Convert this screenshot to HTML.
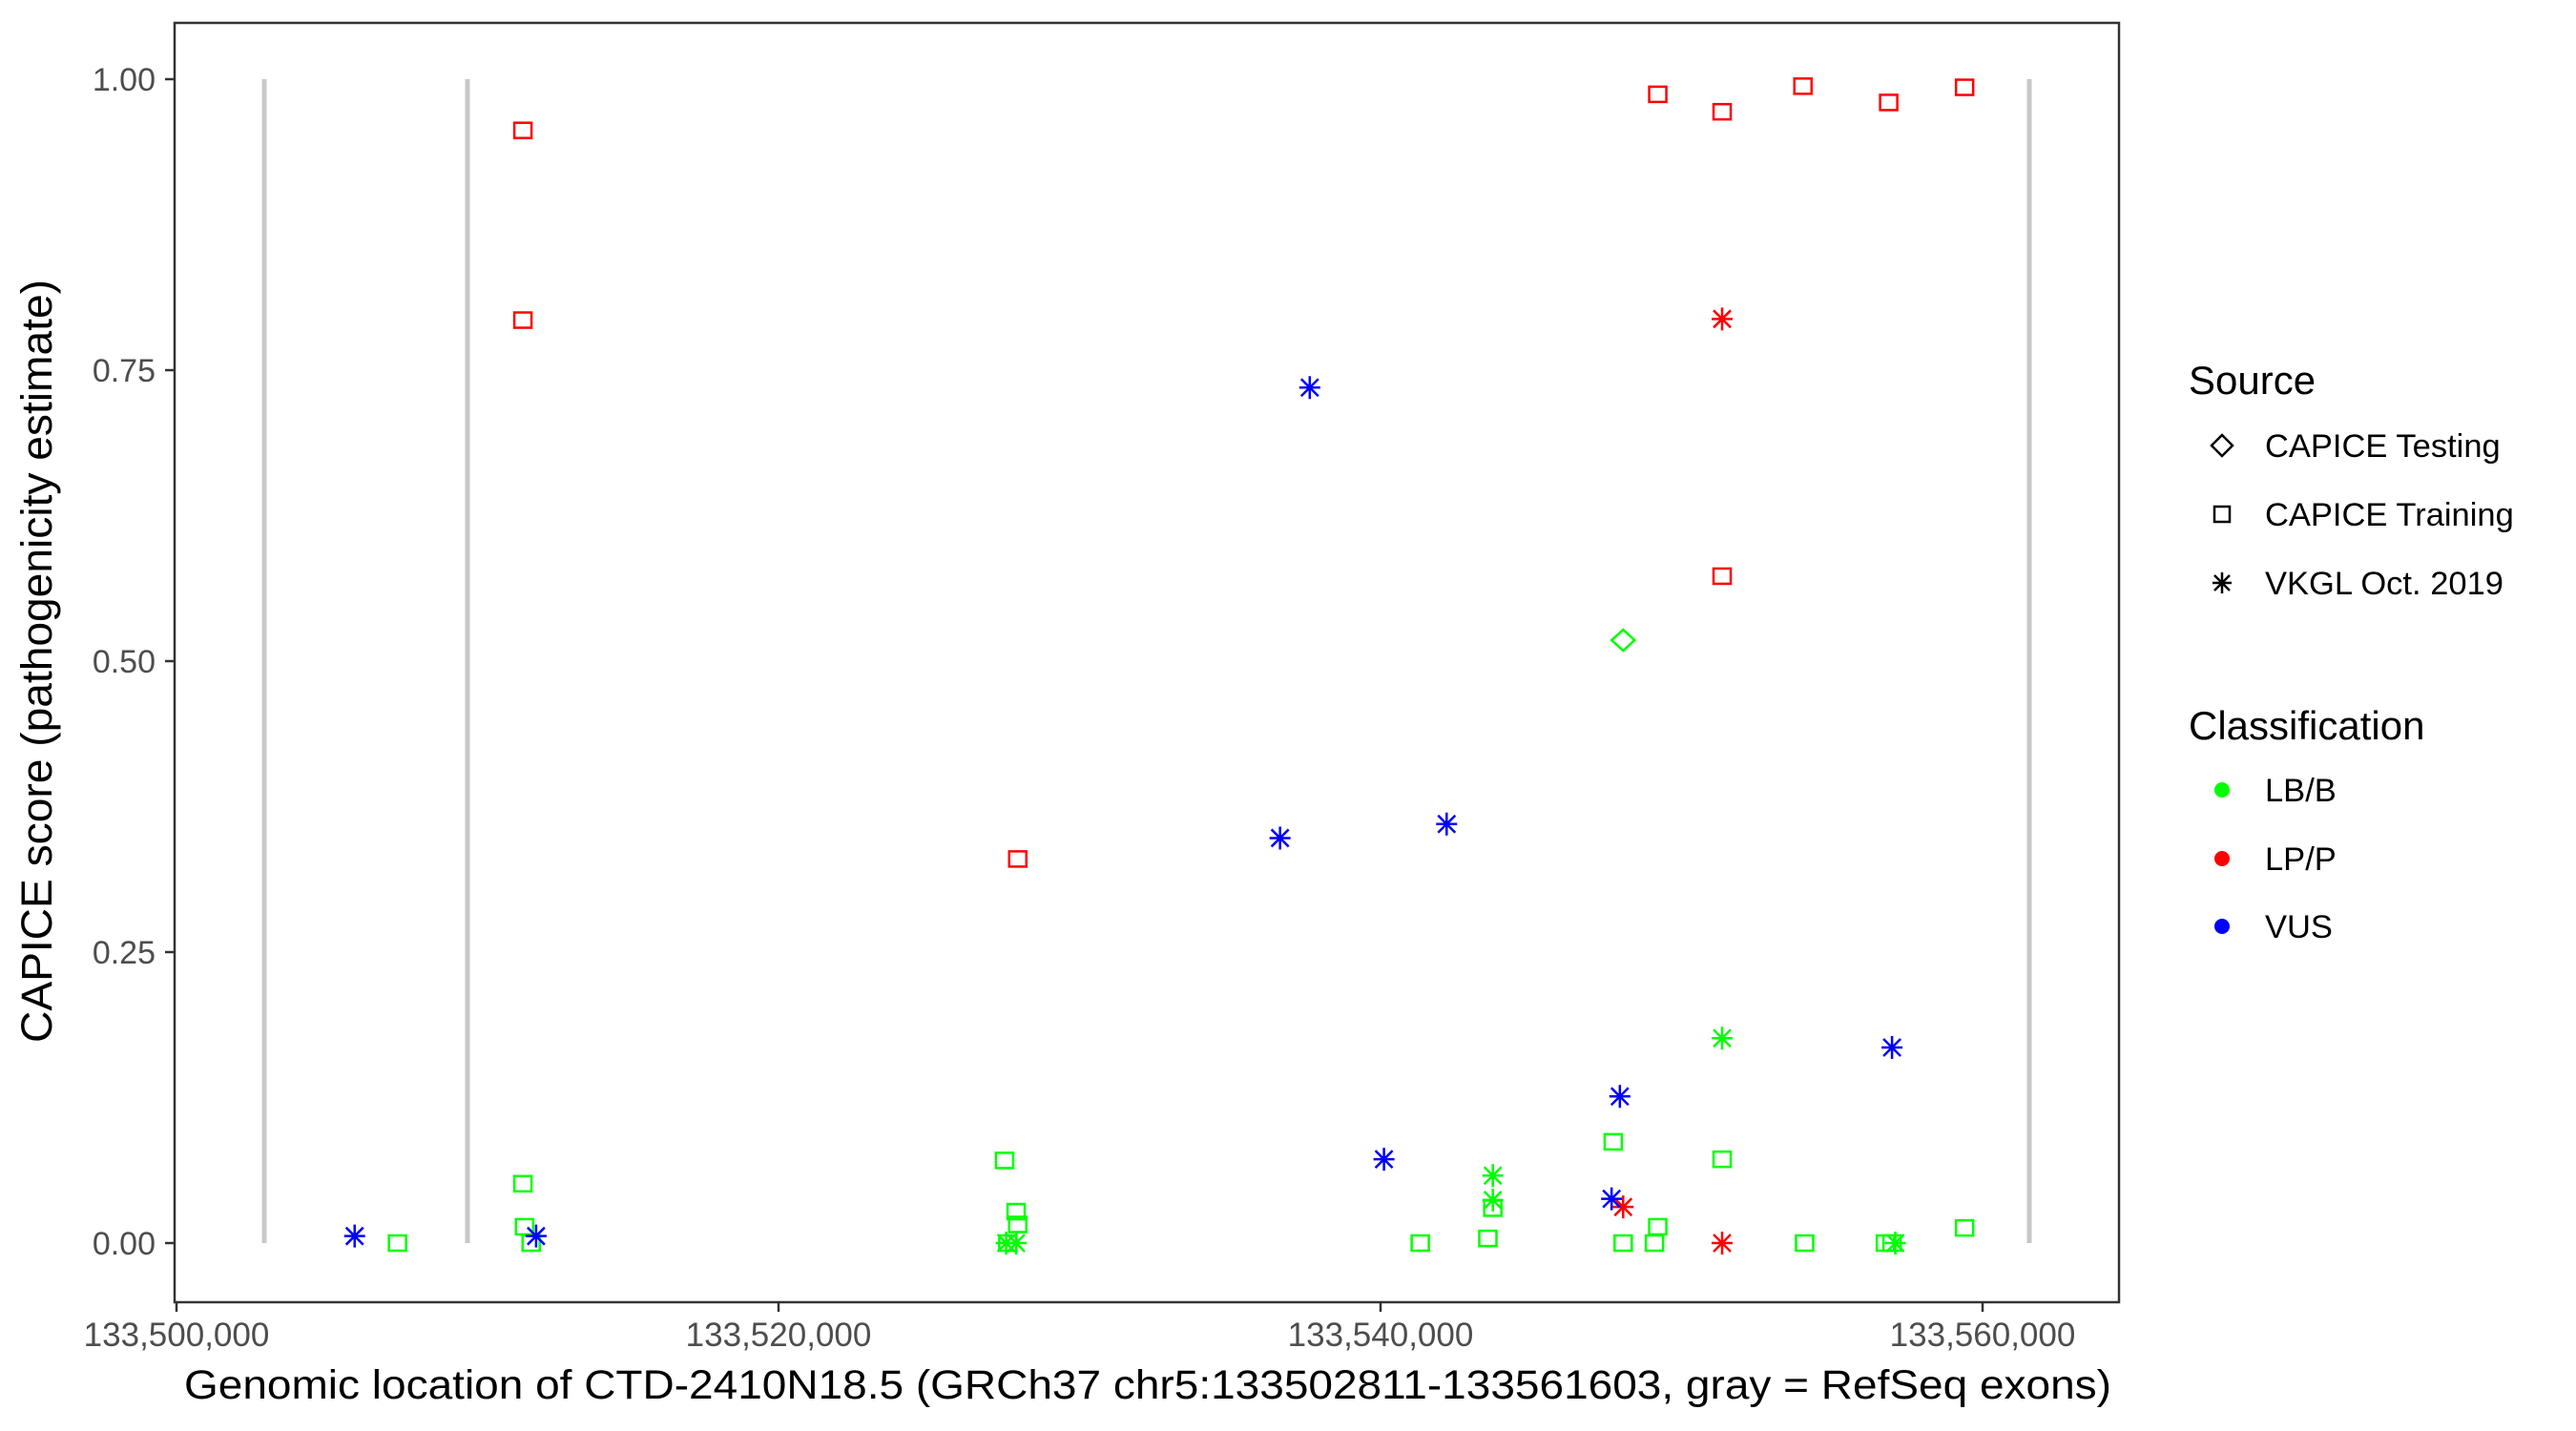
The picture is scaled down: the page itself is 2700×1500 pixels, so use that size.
<!DOCTYPE html>
<html><head><meta charset="utf-8"><style>
html,body{margin:0;padding:0;background:#fff}
svg{display:block;font-family:"Liberation Sans",Arial,sans-serif}
</style></head><body>
<svg id="chart" width="2700" height="1500" viewBox="0 0 2700 1500" xmlns="http://www.w3.org/2000/svg">
<rect x="0" y="0" width="2700" height="1500" fill="#fff"/>
<g id="exons"></g>
<g id="points"></g>
<rect x="183" y="24" width="2038" height="1341" fill="none" stroke="#333" stroke-width="2.5"/>
<g id="yaxis"></g>
<g id="xaxis"></g>
<text transform="translate(54,693) rotate(-90)" text-anchor="middle" font-size="45" fill="#000" textLength="800" lengthAdjust="spacingAndGlyphs">CAPICE score (pathogenicity estimate)</text>
<text x="1203" y="1466" text-anchor="middle" font-size="43" fill="#000" textLength="2020" lengthAdjust="spacingAndGlyphs">Genomic location of CTD-2410N18.5 (GRCh37 chr5:133502811-133561603, gray = RefSeq exons)</text>
<g>
<text x="2294" y="413" font-size="42">Source</text>
<g>
<path d="M2329,456 L2340,467 L2329,478 L2318,467 Z" fill="none" stroke="#000" stroke-width="2.5"/>
<text x="2374" y="479" font-size="34.5">CAPICE Testing</text></g>
<g>
<rect x="2321" y="531" width="16" height="16" fill="none" stroke="#000" stroke-width="2.5"/>
<text x="2374" y="551" font-size="34.5">CAPICE Training</text></g>
<g>
<path d="M2329,600 V622 M2319,611 H2339 M2321,603 L2337,619 M2337,603 L2321,619" stroke="#000" stroke-width="2.5"/>
<text x="2374" y="623" font-size="34.5">VKGL Oct. 2019</text></g>
<text x="2294" y="775" font-size="42">Classification</text>
<g><circle cx="2329" cy="828" r="8" fill="#00ff00"/><text x="2374" y="840" font-size="34.5">LB/B</text></g>
<g><circle cx="2329" cy="900" r="8" fill="#ff0000"/><text x="2374" y="912" font-size="34.5">LP/P</text></g>
<g><circle cx="2329" cy="971" r="8" fill="#0000ff"/><text x="2374" y="983" font-size="34.5">VUS</text></g>
</g>
</svg>
<script>
const exonPositions = [133502916, 133509667, 133561553];
const xTicks = [133500000, 133520000, 133540000, 133560000];
const xTickLabels = ["133,500,000", "133,520,000", "133,540,000", "133,560,000"];
const yTicks = [0, 0.25, 0.5, 0.75, 1.0];
const yTickLabels = ["0.00", "0.25", "0.50", "0.75", "1.00"];
const pointPos = [133511508,133511508,133549210,133551348,133554033,133556882,133559403,133551348,133527948,
 133551348,133548060,133551348,
 133548060,
 133507343,133511508,133511563,133511782,133527510,133527893,133527948,133527619,133541319,133543566,133543730,133547731,133548060,133549101,133549210,133551348,133554088,133556773,133556992,133559403,
 133551348,133543730,133543730,133527564,133527893,133557102,
 133505918,133511946,133537648,133536661,133542196,133540114,133547950,133547676,133556992];
const pointScore = [0.956,0.793,0.987,0.972,0.994,0.980,0.993,0.573,0.330,
 0.794,0.031,0.0,
 0.518,
 0.0,0.051,0.014,0.0,0.071,0.027,0.016,0.0,0.0,0.004,0.030,0.087,0.0,0.0,0.014,0.072,0.0,0.0,0.0,0.013,
 0.176,0.058,0.037,0.0,0.0,0.0,
 0.006,0.006,0.735,0.348,0.360,0.072,0.126,0.038,0.168];
const pointSource = ["train","train","train","train","train","train","train","train","train",
 "vkgl","vkgl","vkgl",
 "test",
 "train","train","train","train","train","train","train","train","train","train","train","train","train","train","train","train","train","train","train","train",
 "vkgl","vkgl","vkgl","vkgl","vkgl","vkgl",
 "vkgl","vkgl","vkgl","vkgl","vkgl","vkgl","vkgl","vkgl","vkgl"];
const pointClass = ["LP/P","LP/P","LP/P","LP/P","LP/P","LP/P","LP/P","LP/P","LP/P",
 "LP/P","LP/P","LP/P",
 "LB/B",
 "LB/B","LB/B","LB/B","LB/B","LB/B","LB/B","LB/B","LB/B","LB/B","LB/B","LB/B","LB/B","LB/B","LB/B","LB/B","LB/B","LB/B","LB/B","LB/B","LB/B",
 "LB/B","LB/B","LB/B","LB/B","LB/B","LB/B",
 "VUS","VUS","VUS","VUS","VUS","VUS","VUS","VUS","VUS"];

const NS = "http://www.w3.org/2000/svg";
const colors = {"LB/B":"#00ff00","LP/P":"#ff0000","VUS":"#0000ff"};
function xScale(v){ return 185 + (v - 133500000) * 631 / 20000; }
function yScale(v){ return 1303 - v * 1220; }
function mk(tag, attrs){ const e = document.createElementNS(NS, tag); for (const k in attrs) e.setAttribute(k, attrs[k]); return e; }

const exG = document.getElementById('exons');
exonPositions.forEach(function(p){
  const l = mk('line', {x1: xScale(p), x2: xScale(p), y1: yScale(1), y2: yScale(0), stroke: '#c8c8c8', 'stroke-width': 5});
  
  
  exG.appendChild(l);
});

const yG = document.getElementById('yaxis');
yTicks.forEach(function(t, i){
  const y = yScale(t);
  const tk = mk('line', {x1: 173, x2: 183, y1: y, y2: y, stroke: '#333', 'stroke-width': 2.5});
  
  
  yG.appendChild(tk);
  const tx = mk('text', {x: 163, y: y + 12, 'text-anchor': 'end', 'font-size': 34, fill: '#4d4d4d'});
  tx.textContent = yTickLabels[i];
  
  
  yG.appendChild(tx);
});

const xG = document.getElementById('xaxis');
xTicks.forEach(function(t, i){
  const x = xScale(t);
  const tk = mk('line', {x1: x, x2: x, y1: 1365, y2: 1375, stroke: '#333', 'stroke-width': 2.5});
  
  
  xG.appendChild(tk);
  const tx = mk('text', {x: x, y: 1411, 'text-anchor': 'middle', 'font-size': 35, fill: '#4d4d4d'});
  tx.textContent = xTickLabels[i];
  
  
  xG.appendChild(tx);
});

const pG = document.getElementById('points');
pointPos.forEach(function(p, i){
  const cx = xScale(p), cy = yScale(pointScore[i]);
  const c = colors[pointClass[i]];
  let el;
  if (pointSource[i] === 'train') {
    el = mk('rect', {x: cx - 9, y: cy - 8, width: 18, height: 16, fill: 'none', stroke: c, 'stroke-width': 2.5});
  } else if (pointSource[i] === 'test') {
    el = mk('path', {d: 'M'+cx+','+(cy-11)+' L'+(cx+12)+','+cy+' L'+cx+','+(cy+11)+' L'+(cx-12)+','+cy+' Z', fill: 'none', stroke: c, 'stroke-width': 2.5});
  } else {
    el = mk('path', {d: 'M'+cx+','+(cy-12)+' V'+(cy+12)+' M'+(cx-11)+','+cy+' H'+(cx+11)+' M'+(cx-9)+','+(cy-9)+' L'+(cx+9)+','+(cy+9)+' M'+(cx+9)+','+(cy-9)+' L'+(cx-9)+','+(cy+9), stroke: c, 'stroke-width': 2.5, fill: 'none'});
  }
  
  
  pG.appendChild(el);
});
</script>
</body></html>
